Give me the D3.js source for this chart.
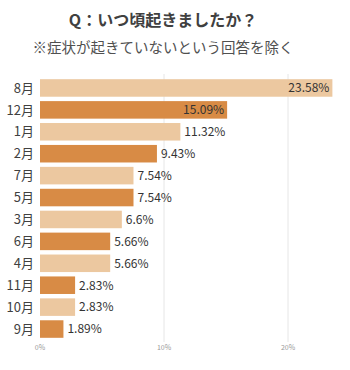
<!DOCTYPE html>
<html>
<head>
<meta charset="utf-8">
<script src="https://cdn.jsdelivr.net/npm/d3@7"></script>
<style>
  body { margin: 0; background: #fff; }
  text { font-family: "Noto Sans CJK JP", "Noto Sans", sans-serif; }
</style>
</head>
<body>
<div id="chart"></div>
<script>
// data
const months = ['8月', '12月', '1月', '2月', '7月', '5月', '3月', '6月', '4月', '11月', '10月', '9月'];
const values = [23.58, 15.09, 11.32, 9.43, 7.54, 7.54, 6.6, 5.66, 5.66, 2.83, 2.83, 1.89];
const valueLabels = ['23.58%', '15.09%', '11.32%', '9.43%', '7.54%', '7.54%', '6.6%', '5.66%', '5.66%', '2.83%', '2.83%', '1.89%'];
const xTicks = [0, 10, 20];

const W = 350, H = 370;
const light = '#ecc8a0', dark = '#d88b45';

const svg = d3.select('#chart').append('svg')
    .attr('width', W).attr('height', H);

// titles
svg.append('text')
    .attr('x', 163).attr('y', 26)
    .attr('text-anchor', 'middle')
    .attr('font-size', '16px')
    .attr('font-weight', 'bold')
    .attr('fill', '#404040')
    .text('Q：いつ頃起きましたか？');

svg.append('text')
    .attr('x', 163).attr('y', 53)
    .attr('text-anchor', 'middle')
    .attr('font-size', '14.5px')
    .attr('fill', '#505050')
    .text('※症状が起きていないという回答を除く');

// scales
const x = d3.scaleLinear().domain([0, 20]).range([40, 288]);
const y = d3.scaleBand().domain(months).range([77, 340]).paddingInner(0.2).paddingOuter(0.1);

// gridlines
svg.append('g')
    .selectAll('line')
    .data(xTicks.filter(d => d > 0))
    .join('line')
    .attr('x1', d => x(d)).attr('x2', d => x(d))
    .attr('y1', 74).attr('y2', 342)
    .attr('stroke', '#e6e6e6')
    .attr('stroke-width', 1);

// x tick labels
svg.append('g')
    .selectAll('text')
    .data(xTicks)
    .join('text')
    .attr('x', d => x(d)).attr('y', 350)
    .attr('text-anchor', 'middle')
    .attr('font-size', '7px')
    .attr('fill', '#999')
    .text(d => d + '%');

// bars
svg.append('g')
    .selectAll('rect')
    .data(months)
    .join('rect')
    .attr('x', x(0))
    .attr('y', d => y(d))
    .attr('width', (d, i) => x(values[i]) - x(0))
    .attr('height', y.bandwidth())
    .attr('fill', (d, i) => i % 2 === 0 ? light : dark);

// category labels
svg.append('g')
    .selectAll('text')
    .data(months)
    .join('text')
    .attr('x', 34)
    .attr('y', d => y(d) + y.bandwidth() / 2)
    .attr('dy', '0.36em')
    .attr('text-anchor', 'end')
    .attr('font-size', '13px')
    .attr('fill', '#404040')
    .text(d => d);

// value labels: the two longest sit inside the bar end
svg.append('g')
    .selectAll('text')
    .data(months)
    .join('text')
    .attr('x', (d, i) => i < 2 ? x(values[i]) - 3 : x(values[i]) + 4)
    .attr('y', d => y(d) + y.bandwidth() / 2)
    .attr('dy', '0.36em')
    .attr('text-anchor', (d, i) => i < 2 ? 'end' : 'start')
    .attr('font-size', '12px')
    .attr('fill', '#333')
    .text((d, i) => valueLabels[i]);
</script>
</body>
</html>
